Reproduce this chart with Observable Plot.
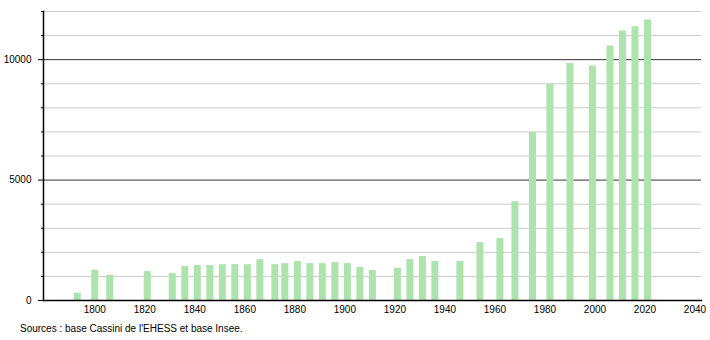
<!DOCTYPE html>
<html>
<head>
<meta charset="utf-8">
<script src="https://cdn.jsdelivr.net/npm/d3@7"></script>
<script src="https://cdn.jsdelivr.net/npm/@observablehq/plot@0.6"></script>
<style>
  html, body { margin: 0; padding: 0; background: #fff; }
  body { position: relative; width: 710px; height: 340px; font-family: "Liberation Sans", Arial, sans-serif; }
  #chart { position: absolute; left: 0; top: 0; }
  #caption { position: absolute; left: 20px; top: 323px; font-size: 10px; line-height: 12px; color: #000; white-space: nowrap; }
</style>
</head>
<body>
<div id="chart"></div>
<div id="caption">Sources : base Cassini de l'EHESS et base Insee.</div>
<script>
const years = [1793, 1800, 1806, 1821, 1831, 1836, 1841, 1846, 1851, 1856, 1861, 1866, 1872, 1876, 1881, 1886, 1891, 1896, 1901, 1906, 1911, 1921, 1926, 1931, 1936, 1946, 1954, 1962, 1968, 1975, 1982, 1990, 1999, 2006, 2011, 2016, 2021];
const population = [300, 1260, 1040, 1200, 1120, 1410, 1450, 1450, 1490, 1490, 1490, 1690, 1490, 1530, 1620, 1530, 1530, 1575, 1530, 1370, 1245, 1340, 1700, 1825, 1620, 1620, 2400, 2570, 4100, 6980, 8970, 9840, 9740, 10570, 11190, 11370, 11650];
const xTicks = [1800, 1820, 1840, 1860, 1880, 1900, 1920, 1940, 1960, 1980, 2000, 2020, 2040];
const yMajorTicks = [0, 5000, 10000];
const yMinorTicks = [1000, 2000, 3000, 4000, 6000, 7000, 8000, 9000, 11000, 12000];
const yDarkGrid = [5000, 10000];

const data = years.map((year, i) => ({year, pop: population[i]}));

const chart = Plot.plot({
  width: 710,
  height: 318,
  marginTop: 11,
  marginBottom: 18,
  marginLeft: 43,
  marginRight: 9,
  style: {fontFamily: "'Liberation Sans', Arial, sans-serif", fontSize: "10px", background: "#fff", color: "#000"},
  x: {domain: [1779.5, 2042.6], label: null},
  y: {domain: [0, 12000], label: null},
  marks: [
    Plot.ruleY(yMinorTicks, {stroke: "#cccccc", strokeWidth: 1}),
    Plot.ruleY(yDarkGrid, {stroke: "#333333", strokeWidth: 1}),
    Plot.ruleX(data, {x: "year", y1: 0, y2: "pop", stroke: "#ade3ad", strokeWidth: 7}),
    Plot.axisY({ticks: yMinorTicks, tickSize: 2, text: null, label: null, stroke: "#000"}),
    Plot.axisY({ticks: yMajorTicks, tickSize: 5, tickPadding: 7, tickFormat: d => String(d), label: null, stroke: "#000"}),
    Plot.axisX({ticks: xTicks, tickSize: 0, tickPadding: 5, tickFormat: d => String(d), label: null}),
    Plot.frame({anchor: "left", stroke: "#000", strokeWidth: 1.5}),
    Plot.frame({anchor: "bottom", stroke: "#000", strokeWidth: 1.5})
  ]
});
document.getElementById("chart").appendChild(chart);
</script>
</body>
</html>
